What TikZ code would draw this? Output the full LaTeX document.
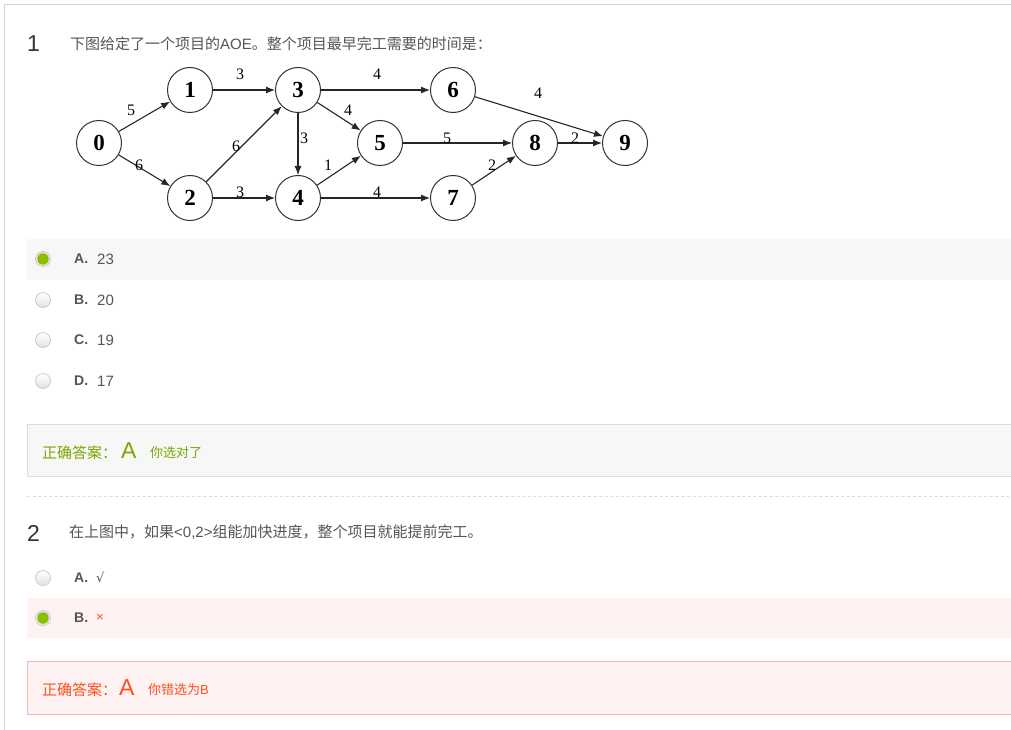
\documentclass[tikz,border=0pt]{standalone}
\usepackage{fontspec}
\setmainfont{Liberation Sans}
\newfontfamily\cjk{Noto Sans CJK SC}
\newfontfamily\graphfont{Liberation Serif}
\newfontfamily\symfont{DejaVu Sans}
\usetikzlibrary{arrows.meta}
\definecolor{framec}{HTML}{D2D2D2}
\definecolor{txtgray}{HTML}{555555}
\definecolor{numgray}{HTML}{333333}
\definecolor{rowgray}{HTML}{F7F7F7}
\definecolor{boxborder}{HTML}{DCDCDC}
\definecolor{okgreen}{HTML}{78A800}
\definecolor{radiogreen}{HTML}{8DBD00}
\definecolor{errred}{HTML}{FF4D1A}
\definecolor{pinkbg}{HTML}{FFF2F2}
\definecolor{pinkborder}{HTML}{F5B8B8}
\definecolor{radioborder}{HTML}{C8C8C8}
\begin{document}
\begin{tikzpicture}[x=1pt,y=-1pt,
  vert/.style={circle,draw=black!80,line width=1pt,minimum size=45pt,inner sep=0pt,
    font=\graphfont\bfseries\fontsize{23}{23}\selectfont},
  arc/.style={-{Latex[length=9pt,width=7pt]},line width=1.1pt,draw=black!85},
  wlab/.style={font=\graphfont\fontsize{16}{16}\selectfont,inner sep=0pt},
  txt/.style={anchor=west,inner sep=0pt,text=txtgray,font=\fontsize{15}{15}\selectfont},
  qnum/.style={anchor=west,inner sep=0pt,text=numgray,font=\fontsize{23}{23}\selectfont},
  optletter/.style={anchor=west,inner sep=0pt,text=txtgray,font=\bfseries\fontsize{14}{14}\selectfont},
  optval/.style={anchor=west,inner sep=0pt,text=txtgray,font=\fontsize{15}{15}\selectfont},
  radio/.style={circle,minimum size=15pt,inner sep=0pt,draw=radioborder,line width=0.7pt,top color=white,bottom color=black!12},
  radiosel/.style={circle,minimum size=15pt,inner sep=0pt,draw=radioborder,line width=0.7pt,fill=black!8},
  dot/.style={circle,minimum size=11.5pt,inner sep=0pt,fill=radiogreen},
]
\useasboundingbox (0,0) rectangle (1011,730);
\fill[white] (0,0) rectangle (1011,730);
% frame
\draw[framec,line width=1pt] (4.5,730) -- (4.5,4.5) -- (1011,4.5);

% ---------- Question 1 ----------
\node[qnum] (n1) at (27,44) {1};
\node[txt] (q1) at (70,44) {{\cjk 下图给定了一个项目的}AOE{\cjk 。整个项目最早完工需要的时间是：}};

% graph
\node[vert] (v0) at (99,143) {0};
\node[vert] (v1) at (190,90) {1};
\node[vert] (v3) at (298,90) {3};
\node[vert] (v6) at (453,90) {6};
\node[vert] (v2) at (190,198) {2};
\node[vert] (v4) at (298,198) {4};
\node[vert] (v5) at (380,143) {5};
\node[vert] (v7) at (453,198) {7};
\node[vert] (v8) at (535,143) {8};
\node[vert] (v9) at (625,143) {9};

\draw[arc] (v0) -- (v1);
\draw[arc] (v0) -- (v2);
\draw[arc] (v1) -- (v3);
\draw[arc] (v3) -- (v6);
\draw[arc] (v6) -- (v9);
\draw[arc] (v3) -- (v5);
\draw[arc] (v3) -- (v4);
\draw[arc] (v2) -- (v3);
\draw[arc] (v2) -- (v4);
\draw[arc] (v4) -- (v5);
\draw[arc] (v4) -- (v7);
\draw[arc] (v5) -- (v8);
\draw[arc] (v7) -- (v8);
\draw[arc] (v8) -- (v9);

\node[wlab] (w01) at (131,110) {5};
\node[wlab] (w02) at (139,165) {6};
\node[wlab] (w13) at (240,74) {3};
\node[wlab] (w36) at (377,74) {4};
\node[wlab] (w69) at (538,93) {4};
\node[wlab] (w35) at (348,110) {4};
\node[wlab] (w34) at (304,138) {3};
\node[wlab] (w23) at (236,146) {6};
\node[wlab] (w24) at (240,192) {3};
\node[wlab] (w45) at (328,165) {1};
\node[wlab] (w47) at (377,192) {4};
\node[wlab] (w58) at (447,138) {5};
\node[wlab] (w78) at (492,165) {2};
\node[wlab] (w89) at (575,138) {2};

% options
\fill[rowgray] (27,239) rectangle (1011,280);
\node[radiosel] (r1a) at (43,259) {};
\node[dot] (r1ad) at (r1a.center) {};
\node[optletter] (l1a) at (74,259) {A.};
\node[optval] (o1a) at (97,259) {23};

\node[radio] (r1b) at (43,300) {};
\node[optletter] (l1b) at (74,300) {B.};
\node[optval] (o1b) at (97,300) {20};

\node[radio] (r1c) at (43,340) {};
\node[optletter] (l1c) at (74,340) {C.};
\node[optval] (o1c) at (97,340) {19};

\node[radio] (r1d) at (43,381) {};
\node[optletter] (l1d) at (74,381) {D.};
\node[optval] (o1d) at (97,381) {17};

% answer box 1
\filldraw[fill=rowgray,draw=boxborder,line width=1pt] (27.5,424.5) rectangle (1012,476);
\node[anchor=west,inner sep=0pt,text=okgreen,font=\cjk\fontsize{15}{15}\selectfont] (a1) at (42,453) {正确答案：};
\node[anchor=west,inner sep=0pt,text=okgreen,font=\fontsize{23}{23}\selectfont] (a1v) at (121,451) {A};
\node[anchor=west,inner sep=0pt,text=okgreen,font=\cjk\fontsize{13}{13}\selectfont] (a1m) at (150,453) {你选对了};

% separator
\draw[boxborder,line width=1pt,dash pattern=on 3pt off 2.5pt] (27,496.5) -- (1011,496.5);

% ---------- Question 2 ----------
\node[qnum] (n2) at (27,533) {2};
\node[txt] (q2) at (69,532) {{\cjk 在上图中，如果}<0,2>{\cjk 组能加快进度，整个项目就能提前完工。}};

\node[radio] (r2a) at (43,578) {};
\node[optletter] (l2a) at (74,578) {A.};
\node[optval] (o2a) at (96,577) {\symfont\fontsize{13}{13}\selectfont √};

\fill[pinkbg] (27,598) rectangle (1011,638);
\node[radiosel] (r2b) at (43,618) {};
\node[dot] (r2bd) at (r2b.center) {};
\node[optletter] (l2b) at (74,618) {B.};
\node[optval,text=errred] (o2b) at (96,618) {\fontsize{13}{13}\selectfont ×};

% answer box 2
\filldraw[fill=pinkbg,draw=pinkborder,line width=1pt] (27.5,661.5) rectangle (1012,714);
\node[anchor=west,inner sep=0pt,text=errred,font=\cjk\fontsize{15}{15}\selectfont] (a2) at (42,690) {正确答案：};
\node[anchor=west,inner sep=0pt,text=errred,font=\fontsize{23}{23}\selectfont] (a2v) at (119,688) {A};
\node[anchor=west,inner sep=0pt,text=errred,font=\fontsize{13}{13}\selectfont] (a2m) at (148,690) {{\cjk 你错选为}B};
\end{tikzpicture}
\end{document}
